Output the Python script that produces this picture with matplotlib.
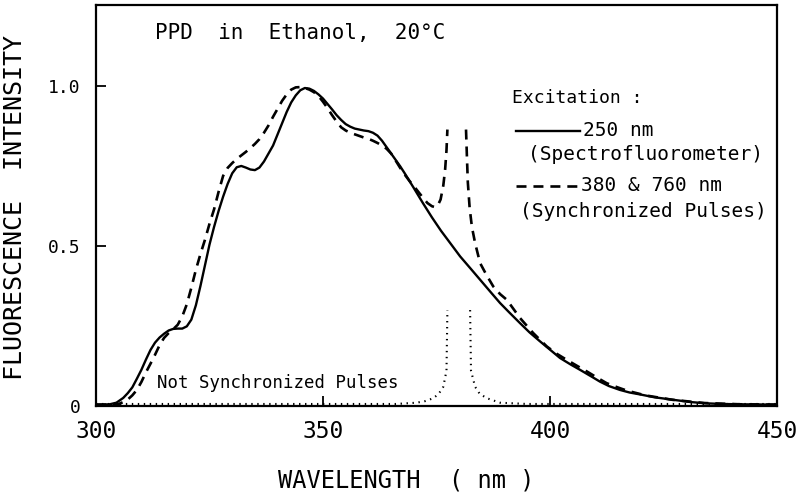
import numpy as np
import matplotlib
matplotlib.use("Agg")
import matplotlib.pyplot as plt
from matplotlib.lines import Line2D

plt.rcParams['font.family'] = ['DejaVu Sans Mono', 'DejaVu Sans']
plt.rcParams['lines.scale_dashes'] = False

# solid: 250 nm excitation (spectrofluorometer)
wl_solid = [300, 303, 304.5, 306, 307, 308, 309, 310, 311, 312,
            313, 314, 315, 316, 317, 318, 319, 320, 321, 322,
            323, 324, 325, 326, 327, 328, 329, 330, 331, 332,
            333, 334, 335, 336, 337, 338, 339, 340, 341, 342,
            343, 344, 345, 346, 347, 348, 349, 350, 351, 352,
            353, 354, 355, 356, 357, 358, 359, 360, 361, 362,
            363, 364, 365, 366, 367, 368, 369, 370, 372, 374,
            376, 378, 380.2, 382.5, 384.6, 387, 389, 391, 393.4, 395.5,
            397.8, 400, 402.2, 404.5, 406.6, 409, 411, 413, 415.4, 417.5,
            419.8, 423, 427.2, 431, 434.5, 438, 441.8, 450]
int_solid = [0.004, 0.005, 0.01, 0.025, 0.04, 0.058, 0.085, 0.113, 0.145, 0.175,
             0.198, 0.214, 0.226, 0.236, 0.241, 0.242, 0.242, 0.249, 0.27, 0.315,
             0.375, 0.44, 0.505, 0.56, 0.61, 0.655, 0.695, 0.728, 0.747, 0.751,
             0.746, 0.74, 0.738, 0.746, 0.765, 0.79, 0.815, 0.85, 0.885, 0.92,
             0.95, 0.972, 0.988, 0.995, 0.993, 0.986, 0.975, 0.962, 0.945, 0.928,
             0.91, 0.895, 0.882, 0.874, 0.868, 0.865, 0.862, 0.86, 0.855, 0.846,
             0.83, 0.81, 0.79, 0.77, 0.75, 0.728, 0.705, 0.682, 0.635, 0.59,
             0.548, 0.51, 0.468, 0.43, 0.395, 0.355, 0.322, 0.293, 0.259, 0.23,
             0.202, 0.176, 0.15, 0.13, 0.113, 0.093, 0.076, 0.062, 0.05, 0.042,
             0.036, 0.027, 0.019, 0.012, 0.008, 0.006, 0.005, 0.004]

# dashed: 380 & 760 nm synchronized pulses (nan = clipped laser lines)
wl_dash = [300, 303, 305, 306, 307, 308, 309, 310, 311, 312,
           313, 314, 315, 316, 317, 318, 319, 320, 321, 322,
           323, 324, 325, 326, 327, 328, 329, 330, 331, 332,
           333, 334, 335, 336, 337, 338, 339, 340, 341, 342,
           343, 344, 345, 346, 347, 348, 349, 350, 351, 352,
           353, 354, 355, 356, 357, 358, 359, 360, 361, 362,
           363, 364, 365, 366, 367, 368, 369, 370, 371, 372,
           373, 374, 374.7, 375.3, 375.9, 376.5, 376.9, 377.2, 377.4, np.nan,
           381.5, 381.7, 381.9, 382.3, 382.8, 383.5, 384.6, 386, 387.5, 389,
           390.5, 393.4, 396.3, 399.3, 401.5, 403.7, 406, 408.1, 410.3, 412.5,
           414.7, 416.9, 421, 427, 434, 442, 450]
int_dash = [0.004, 0.004, 0.006, 0.012, 0.02, 0.033, 0.05, 0.075, 0.105, 0.132,
            0.16, 0.19, 0.213, 0.228, 0.24, 0.254, 0.28, 0.318, 0.37, 0.426,
            0.475, 0.52, 0.57, 0.615, 0.67, 0.72, 0.745, 0.76, 0.773, 0.784,
            0.795, 0.807, 0.82, 0.835, 0.855, 0.878, 0.905, 0.93, 0.955, 0.975,
            0.99, 0.997, 0.998, 0.995, 0.99, 0.982, 0.97, 0.952, 0.932, 0.91,
            0.89, 0.872, 0.862, 0.855, 0.85, 0.845, 0.84, 0.836, 0.83, 0.823,
            0.815, 0.805, 0.79, 0.768, 0.745, 0.724, 0.705, 0.688, 0.67, 0.652,
            0.635, 0.625, 0.622, 0.628, 0.646, 0.69, 0.74, 0.8, 0.865, np.nan,
            0.865, 0.78, 0.7, 0.62, 0.56, 0.51, 0.447, 0.41, 0.374, 0.35,
            0.332, 0.275, 0.228, 0.186, 0.163, 0.144, 0.125, 0.108, 0.089, 0.071,
            0.059, 0.048, 0.033, 0.019, 0.009, 0.005, 0.004]

# dotted: not synchronized pulses
wl_dot = [300, 366, 370.6, 372.5, 374.3, 375.5, 376.5, 377.2, 377.4, np.nan,
          382.4, 382.6, 383.5, 384.5, 386.1, 389, 395, 450]
int_dot = [0.006, 0.006, 0.01, 0.015, 0.024, 0.038, 0.06, 0.11, 0.30, np.nan,
           0.30, 0.11, 0.06, 0.038, 0.024, 0.01, 0.006, 0.006]

xticks = [300, 350, 400, 450]
yticks = [0, 0.5, 1.0]
ytick_labels = ["0", "0.5", "1.0"]

fig = plt.figure(figsize=(8, 4.95), dpi=100)
ax = fig.add_axes([0.12, 0.18, 0.85125, 0.81])

ax.plot(wl_solid, int_solid, color='black', lw=1.7, solid_capstyle='round')
ax.plot(wl_dash, int_dash, color='black', lw=1.9, dashes=(7.2, 5))
ax.plot(wl_dot, int_dot, color='black', lw=1.5, linestyle=(0, (1, 3.3)))

ax.set_xlim(300, 450)
ax.set_ylim(0, 1.255)
ax.set_xticks(xticks)
ax.set_yticks(yticks)
ax.set_yticklabels(ytick_labels)
ax.tick_params(direction='in', length=7, width=1.3)
ax.tick_params(axis='x', labelsize=16.5, pad=10)
ax.tick_params(axis='y', labelsize=13, pad=11)
for s in ax.spines.values():
    s.set_linewidth(1.6)

ax.set_xlabel("WAVELENGTH  ( nm )", fontsize=17)
ax.xaxis.set_label_coords(0.455, -0.155)
ax.set_ylabel("FLUORESCENCE  INTENSITY", fontsize=18)
ax.yaxis.label.set_verticalalignment('center')
ax.yaxis.set_label_coords(-0.119, 0.495)

ax.text(0.087, 0.93, "PPD  in  Ethanol,  20°C", transform=ax.transAxes,
        fontsize=15, va='center', ha='left')
ax.text(313.4, 0.072, "Not Synchronized Pulses", fontsize=12.5,
        va='center', ha='left')

# legend, drawn by hand to follow the original layout
ax.text(0.611, 0.768, "Excitation :", transform=ax.transAxes, fontsize=13,
        va='center', ha='left')
ax.add_line(Line2D([0.617, 0.711], [0.686, 0.686], transform=ax.transAxes,
                   color='black', lw=1.7))
ax.text(0.715, 0.686, "250 nm", transform=ax.transAxes, fontsize=14,
        va='center', ha='left')
ax.text(0.634, 0.626, "(Spectrofluorometer)", transform=ax.transAxes,
        fontsize=14, va='center', ha='left')
ax.add_line(Line2D([0.617, 0.711], [0.549, 0.549], transform=ax.transAxes,
                   color='black', lw=1.9, dashes=(7.2, 5)))
ax.text(0.712, 0.549, "380 & 760 nm", transform=ax.transAxes, fontsize=14,
        va='center', ha='left')
ax.text(0.623, 0.484, "(Synchronized Pulses)", transform=ax.transAxes,
        fontsize=14, va='center', ha='left')

fig.savefig("out.png", dpi=100)
